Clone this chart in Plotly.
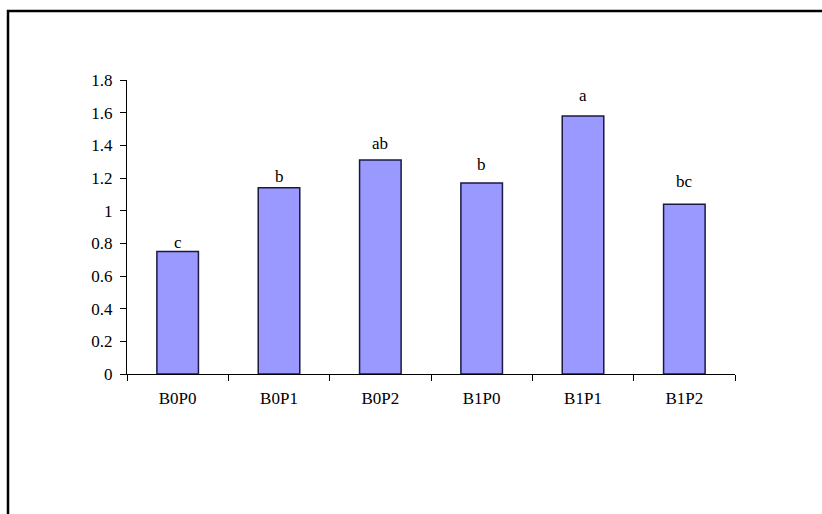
import plotly.graph_objects as go

categories = ["B0P0", "B0P1", "B0P2", "B1P0", "B1P1", "B1P2"]
values = [0.75, 1.14, 1.31, 1.17, 1.58, 1.04]
letters = ["c", "b", "ab", "b", "a", "bc"]
y_ticks = [0, 0.2, 0.4, 0.6, 0.8, 1, 1.2, 1.4, 1.6, 1.8]
y_tick_labels = ["0", "0.2", "0.4", "0.6", "0.8", "1", "1.2", "1.4", "1.6", "1.8"]
# pixel gap between each letter label and its bar (labels were placed by hand)
label_gap_px = [-2, 0, 5, 7, 9, 11]

W, H = 822, 514
L, R, T, B = 127, 87, 80, 140
pw, ph = W - L - R, H - T - B

FONT = dict(family="Liberation Serif, Times New Roman, serif", size=17, color="black")

fig = go.Figure(go.Bar(
    x=categories, y=values,
    marker=dict(color="#9999FF", line=dict(color="#1a1a40", width=1.5)),
    width=0.41,
))

for cat, val, lab, gap in zip(categories, values, letters, label_gap_px):
    fig.add_annotation(x=cat, y=val, text=lab, showarrow=False,
                       yanchor="bottom", yshift=gap, font=FONT)

def px(xp):
    return (xp - L) / pw

def py(yp):
    return (H - B - yp) / ph

fig.add_shape(type="rect", xref="paper", yref="paper",
              x0=px(8), x1=px(840), y0=py(540), y1=py(11),
              line=dict(color="black", width=2.5), fillcolor="rgba(0,0,0,0)")

fig.update_layout(
    width=W, height=H, margin=dict(l=L, r=R, t=T, b=B, pad=0),
    paper_bgcolor="white", plot_bgcolor="white",
    showlegend=False, font=FONT,
)
fig.update_xaxes(showline=True, linecolor="black", linewidth=1.2,
                 ticks="outside", ticklen=6, tickcolor="black", tickwidth=1.2,
                 tickson="boundaries", showgrid=False, ticklabelstandoff=8,
                 tickfont=FONT)
fig.update_yaxes(range=[0, 1.8], tickvals=y_ticks, ticktext=y_tick_labels,
                 showline=True, linecolor="black", linewidth=1.2,
                 ticks="outside", ticklen=6, tickcolor="black", tickwidth=1.2,
                 showgrid=False, zeroline=False, tickfont=FONT,
                 ticklabelstandoff=4)

fig.write_html("out.html")
